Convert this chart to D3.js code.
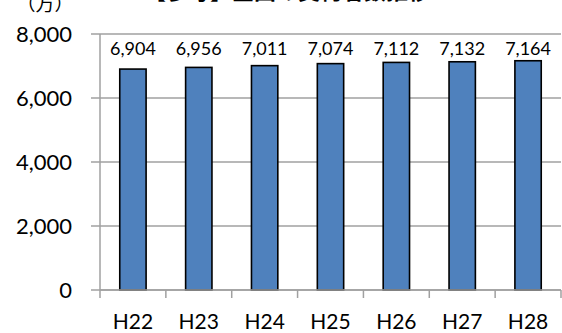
<!DOCTYPE html>
<html><head><meta charset="utf-8">
<script src="https://cdn.jsdelivr.net/npm/d3@7"></script>
<style>body{margin:0;background:#fff}svg{display:block}</style>
</head><body>
<script>
const categories = ["H22","H23","H24","H25","H26","H27","H28"];
const values = [6904,6956,7011,7074,7112,7132,7164];
const yTicks = [0,2000,4000,6000,8000];
const title = "【参考】全国の契約者数推移";
const unitLabel = "（万）";

(function(){
const W = 562, H = 333;
const svg = d3.select("body").append("svg").attr("width", W).attr("height", H);
const pL = 100, pR = 561, pT = 34, pB = 290;
const x = d3.scaleBand().domain(categories).range([pL, pR]).padding(0);
const y = d3.scaleLinear().domain([0, 8000]).range([pB, pT]);
const font = "Lato, 'Open Sans', sans-serif";
const fmt = d3.format(",");

// gridlines
svg.append("g").selectAll("line").data(yTicks).join("line")
  .attr("x1", pL - 9).attr("x2", pR).attr("y1", d => y(d)).attr("y2", d => y(d))
  .attr("stroke", "#a0a0a0").attr("stroke-width", 1.5);
// y axis line
svg.append("line").attr("x1", pL).attr("x2", pL).attr("y1", pT).attr("y2", pB + 8)
  .attr("stroke", "#a0a0a0").attr("stroke-width", 1.5);
// x tick marks
const xtickPos = categories.map(c => x(c)).concat([x(categories[categories.length-1]) + x.bandwidth()]);
svg.append("g").selectAll("line").data(xtickPos.slice(1)).join("line")
  .attr("x1", d => d).attr("x2", d => d).attr("y1", pB).attr("y2", pB + 8)
  .attr("stroke", "#a0a0a0").attr("stroke-width", 1.5);

// y labels
svg.append("g").selectAll("text").data(yTicks).join("text")
  .attr("x", 72).attr("y", d => y(d) + 8).attr("text-anchor", "end")
  .attr("font-family", font).attr("font-size", 22).attr("fill", "#000")
  .text(d => fmt(d));

// bars
const bw = x.bandwidth() * 0.4;
svg.append("g").selectAll("rect").data(values).join("rect")
  .attr("x", (d, i) => x(categories[i]) + (x.bandwidth() - bw) / 2)
  .attr("y", d => y(d)).attr("width", bw).attr("height", d => pB - y(d))
  .attr("fill", "#4f81bd").attr("stroke", "#000").attr("stroke-width", 1.6);
// redraw zero line over bars
svg.append("line").attr("x1", pL).attr("x2", pR).attr("y1", y(0)).attr("y2", y(0))
  .attr("stroke", "#a0a0a0").attr("stroke-width", 1.5);

// value labels
svg.append("g").selectAll("text").data(values).join("text")
  .attr("x", (d, i) => x(categories[i]) + x.bandwidth() / 2).attr("y", 55)
  .attr("text-anchor", "middle").attr("font-family", font).attr("font-size", 18)
  .text(d => fmt(d));

// category labels
svg.append("g").selectAll("text").data(categories).join("text")
  .attr("x", d => x(d) + x.bandwidth() / 2).attr("y", 329)
  .attr("text-anchor", "middle").attr("font-family", font).attr("font-size", 21)
  .text(d => d);

// unit label
svg.append("text").attr("x", 45).attr("y", 11).attr("text-anchor", "middle")
  .attr("font-family", "'Noto Sans CJK JP', sans-serif").attr("font-size", 19).text(unitLabel);
// title (mostly clipped at top, as in the reference)
svg.append("text").attr("x", 287).attr("y", -1).attr("text-anchor", "middle")
  .attr("font-family", "'Noto Sans CJK JP', sans-serif").attr("font-weight", "bold")
  .attr("font-size", 22).text(title);
})();
</script>
</body></html>
